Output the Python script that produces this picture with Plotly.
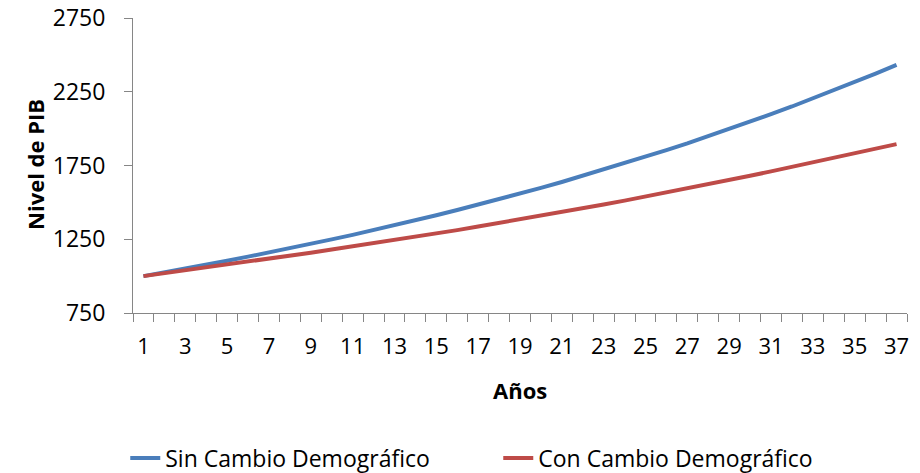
import plotly.graph_objects as go

years = list(range(1, 38))
sin_cambio = [1000, 1025, 1051, 1077, 1104, 1132, 1160, 1189, 1219, 1249,
              1280, 1312, 1345, 1379, 1413, 1448, 1484, 1521, 1559, 1598,
              1638, 1680, 1722, 1765, 1809, 1854, 1900, 1948, 1997, 2047,
              2098, 2150, 2204, 2259, 2315, 2373, 2432]
con_cambio = [1000, 1019, 1038, 1058, 1078, 1098, 1118, 1138, 1159, 1180,
              1201, 1222, 1244, 1266, 1289, 1312, 1336, 1360, 1384, 1409,
              1434, 1460, 1486, 1512, 1539, 1566, 1594, 1622, 1651, 1680,
              1710, 1740, 1771, 1802, 1833, 1864, 1895]
y_ticks = [750, 1250, 1750, 2250, 2750]
x_labels = list(range(1, 38, 2))
x_bounds = [i + 0.5 for i in range(0, 38)]

FONT = "Open Sans"
AX = "#868686"

fig = go.Figure()
fig.add_trace(go.Scatter(x=years, y=sin_cambio, mode="lines", name="Sin Cambio Demográfico",
                         line=dict(color="#4A7EBB", width=4)))
fig.add_trace(go.Scatter(x=years, y=con_cambio, mode="lines", name="Con Cambio Demográfico",
                         line=dict(color="#BE4B48", width=4)))

fig.update_layout(
    width=920, height=473,
    margin=dict(l=133, r=13, t=18, b=160, autoexpand=False),
    paper_bgcolor="white", plot_bgcolor="white",
    font=dict(family=FONT, color="#000000", size=20),
    showlegend=True,
    legend=dict(orientation="h", x=-0.01, y=-0.4915, xanchor="left", yanchor="middle",
                entrywidth=328, entrywidthmode="pixels",
                font=dict(family=FONT, size=23, color="#000000")),
    xaxis=dict(range=[0.5, 37.5], tickmode="array", tickvals=x_labels,
               ticktext=[str(v) for v in x_labels], ticks="", showgrid=False,
               zeroline=False, showline=True, linecolor=AX, linewidth=1, automargin=False,
               tickfont=dict(size=22), ticklabelstandoff=14, ticklabeloverflow="allow",
               minor=dict(tickmode="array", tickvals=x_bounds, ticks="outside",
                          ticklen=8, tickcolor=AX, tickwidth=1, showgrid=False)),
    yaxis=dict(range=[750, 2750], tickmode="array", tickvals=y_ticks,
               ticks="outside", ticklen=8, tickcolor=AX, tickwidth=1, automargin=False,
               showgrid=False, zeroline=False, showline=True, linecolor=AX, linewidth=1,
               tickfont=dict(size=23), ticklabelstandoff=14, ticklabeloverflow="allow"),
    annotations=[
        dict(text="<b>Años</b>", xref="paper", yref="paper", x=0.5, y=-0.261,
             showarrow=False, font=dict(size=22), xanchor="center", yanchor="middle"),
        dict(text="<b>Nivel de PIB</b>", xref="paper", yref="paper", x=-0.1266, y=0.502,
             showarrow=False, textangle=-90, font=dict(size=22), xanchor="center", yanchor="middle"),
    ],
)

fig.write_html("out.html", config={"displayModeBar": False},
               post_script="document.body.style.margin='0';document.body.style.overflow='hidden';")
